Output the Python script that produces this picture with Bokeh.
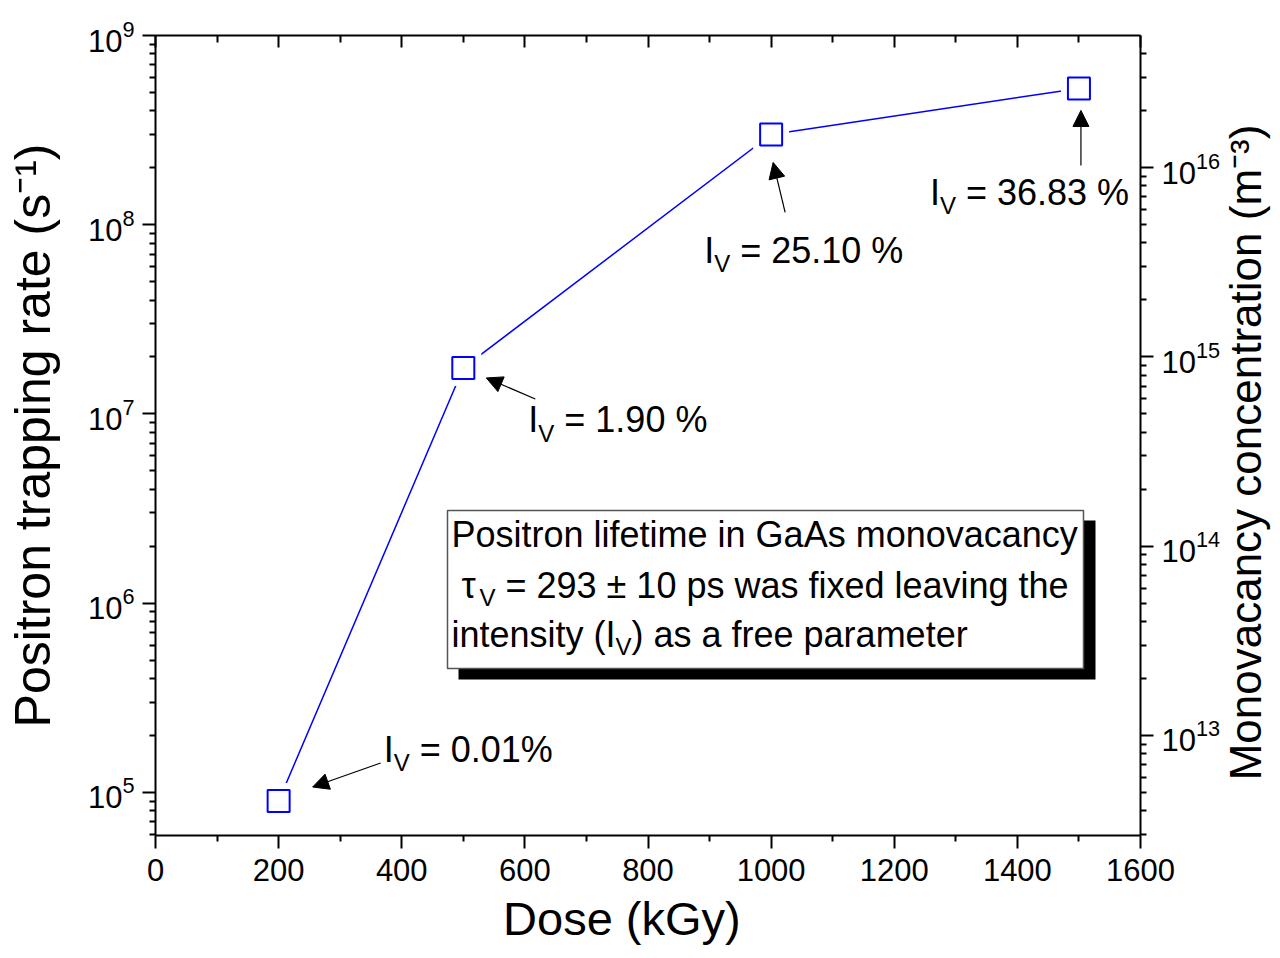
import math

from bokeh.core.properties import value
from bokeh.embed import file_html
from bokeh.layouts import row
from bokeh.models import (Arrow, ColumnDataSource, FixedTicker, LinearAxis, LogAxis,
                          LogTickFormatter, NormalHead, Range1d)
from bokeh.plotting import figure
from bokeh.resources import INLINE

# ---- data -------------------------------------------------------------
dose_kgy = [200, 500, 1000, 1500]
trapping_rate = [9.0e4, 1.75e7, 3.0e8, 5.25e8]          # s^-1
intensity_text = ["0.01%", "1.90 %", "25.10 %", "36.83 %"]

x_major = [0, 200, 400, 600, 800, 1000, 1200, 1400, 1600]
x_minor = [100, 300, 500, 700, 900, 1100, 1300, 1500]
left_decades = [5, 6, 7, 8, 9]
right_decades = [13, 14, 15, 16]

NB = "\u00a0"
box_lines = ["Positron lifetime in GaAs monovacancy",
             NB + "= 293 \u00b1 10 ps was fixed leaving the",
             "intensity (I",
             ") as a free parameter"]
right_title = "Monovacancy concentration (m\u207b\u00b3)"

# ---- geometry ---------------------------------------------------------
FONT = "Liberation Sans"
CANVAS_H = 958
FRAME_W, FRAME_H = 985, 800
X_LO, X_HI = 0, 1600
LOG_LO, LOG_HI = 4.772, 9.0
LOG_R_LO, LOG_R_HI = 12.471, 16.698
BASE_FIX = 0.36          # baseline correction of the svg text, in em
FL, FT = 155, 35         # frame offset inside the canvas
RIGHT_BORDER = 82        # room for the right tick labels
TITLE_W = 1280 - FL - FRAME_W - RIGHT_BORDER


def to_px(x, y):
    """data -> frame pixel (origin at frame top-left)"""
    sx = (x - X_LO) / (X_HI - X_LO) * FRAME_W
    sy = (LOG_HI - math.log10(y)) / (LOG_HI - LOG_LO) * FRAME_H
    return sx, sy


def to_data(sx, sy):
    x = X_LO + sx / FRAME_W * (X_HI - X_LO)
    y = 10 ** (LOG_HI - sy / FRAME_H * (LOG_HI - LOG_LO))
    return x, y


def shifted(x, y, dx, dy):
    sx, sy = to_px(x, y)
    return to_data(sx + dx, sy + dy)


def frame_pt(cx, cy):
    return to_data(cx - FL, cy - FT)


p = figure(frame_width=FRAME_W, frame_height=FRAME_H,
           x_range=Range1d(X_LO, X_HI),
           y_range=Range1d(10 ** LOG_LO, 10 ** LOG_HI),
           y_axis_type="log", x_axis_type=None,
           output_backend="svg", toolbar_location=None,
           min_border_left=FL, min_border_right=RIGHT_BORDER,
           min_border_top=FT, min_border_bottom=CANVAS_H - FT - FRAME_H)
p.background_fill_color = "white"
p.border_fill_color = "white"
p.outline_line_color = None
p.grid.visible = False
p.extra_y_ranges = {"conc": Range1d(10 ** LOG_R_LO, 10 ** LOG_R_HI)}


def style_axis(ax, out_major=13, out_minor=6, in_major=0, in_minor=0):
    ax.axis_line_width = 2
    ax.axis_line_color = "black"
    ax.major_tick_line_width = 2
    ax.minor_tick_line_width = 2
    ax.major_tick_line_color = "black"
    ax.minor_tick_line_color = "black"
    ax.major_tick_out = out_major
    ax.minor_tick_out = out_minor
    ax.major_tick_in = in_major
    ax.minor_tick_in = in_minor
    ax.major_label_text_font = FONT
    ax.major_label_text_font_size = "31px"
    ax.major_label_text_color = "black"
    ax.axis_label_text_font = FONT
    ax.axis_label_text_font_style = "normal"
    ax.axis_label_text_color = "black"


def log_minor(decades):
    return [k * 10.0 ** e for e in range(decades[0] - 1, decades[-1] + 1) for k in range(2, 10)]


# left axis
yl = p.yaxis[0]
yl.ticker = FixedTicker(ticks=[10.0 ** e for e in left_decades], minor_ticks=log_minor(left_decades))
yl.formatter = LogTickFormatter()
style_axis(yl)
yl.axis_label = "Positron trapping rate (s\u207b\u00b9)"
yl.axis_label_text_font_size = "50px"
yl.major_label_standoff = 8
yl.axis_label_standoff = 24

# bottom axis
xb = LinearAxis(ticker=FixedTicker(ticks=x_major, minor_ticks=x_minor))
style_axis(xb)
xb.axis_label = "Dose (kGy)" + NB * 4
xb.axis_label_text_font_size = "47px"
xb.major_label_standoff = 10
xb.axis_label_standoff = 8
p.add_layout(xb, "below")

# top axis: ticks only
xt = LinearAxis(ticker=FixedTicker(ticks=x_major, minor_ticks=x_minor))
style_axis(xt, out_major=0, out_minor=0, in_major=12, in_minor=7)
xt.major_label_text_font_size = "0px"
xt.major_label_standoff = 0
p.add_layout(xt, "above")

# right axis: monovacancy concentration
yr = LogAxis(y_range_name="conc",
             ticker=FixedTicker(ticks=[10.0 ** e for e in right_decades],
                                minor_ticks=log_minor(right_decades)),
             formatter=LogTickFormatter())
style_axis(yr)
yr.major_label_standoff = 8
p.add_layout(yr, "right")

# ---- series -------------------------------------------------------------
src = ColumnDataSource(dict(x=dose_kgy, y=trapping_rate))
p.line("x", "y", source=src, line_color="#0000ff", line_width=1.5)
# white pads give the line a small gap around each marker
p.scatter("x", "y", source=src, marker="square", size=36,
          fill_color="white", line_color=None)
p.scatter("x", "y", source=src, marker="square", size=22,
          fill_color="white", line_color="#0000ff", line_width=2)

# ---- I_V labels with arrows (pixel offsets relative to each point) -----
label_offsets = [(105, -39), (65, 65), (-67, 129), (-149, 117)]
arrow_offsets = [((102, -38), (34, -14)),
                 ((72, 31), (23, 10)),
                 ((14, 78), (2, 28)),
                 ((2, 77), (2, 22))]

pieces = dict(x=[], y=[], text=[], size=[])


def add_piece(x, y, dx, dy, text, size):
    px, py = shifted(x, y, dx, dy - BASE_FIX * size)
    pieces["x"].append(px)
    pieces["y"].append(py)
    pieces["text"].append(text)
    pieces["size"].append(f"{size}px")


for xv, yv, txt, (ldx, ldy), (tail, head) in zip(dose_kgy, trapping_rate, intensity_text,
                                                  label_offsets, arrow_offsets):
    add_piece(xv, yv, ldx, ldy, "I", 36)
    add_piece(xv, yv, ldx + 10, ldy + 9, "V", 24)
    add_piece(xv, yv, ldx + 26, ldy, NB + "= " + txt, 36)
    x0, y0 = shifted(xv, yv, *tail)
    x1, y1 = shifted(xv, yv, *head)
    p.add_layout(Arrow(x_start=x0, y_start=y0, x_end=x1, y_end=y1,
                       line_color="black", line_width=1.2,
                       end=NormalHead(size=16, fill_color="black", line_color="black",
                                      line_width=1)))

# ---- note box -------------------------------------------------------------
sh_l, sh_t = frame_pt(458, 520)
sh_r, sh_b = frame_pt(1095, 679)
bx_l, bx_t = frame_pt(447, 510)
bx_r, bx_b = frame_pt(1083, 668)
p.quad(left=[sh_l], right=[sh_r], top=[sh_t], bottom=[sh_b],
       fill_color="black", line_color=None)
p.quad(left=[bx_l], right=[bx_r], top=[bx_t], bottom=[bx_b],
       fill_color="white", line_color="#555555", line_width=1.5)

box_pieces = dict(x=[], y=[], text=[], size=[])


def box_piece(cx, cy, text, size):
    px, py = frame_pt(cx, cy - BASE_FIX * size)
    box_pieces["x"].append(px)
    box_pieces["y"].append(py)
    box_pieces["text"].append(text)
    box_pieces["size"].append(f"{size}px")


box_piece(451, 547, box_lines[0], 36)
box_piece(461, 598, "\u03c4", 36)
box_piece(479, 606, "V", 24)
box_piece(495, 598, box_lines[1], 36)
box_piece(451, 647, box_lines[2], 36)
box_piece(615, 655, "V", 24)
box_piece(631, 647, box_lines[3], 36)

for srcd in (pieces, box_pieces):
    p.text("x", "y", text="text", source=ColumnDataSource(srcd),
           text_font=value(FONT), text_font_size="size", text_color="black",
           text_align="left", text_baseline="alphabetic")

# ---- right-hand title, read bottom to top, in a narrow strip ------------
t = figure(frame_width=TITLE_W, frame_height=CANVAS_H,
           x_range=Range1d(0, TITLE_W), y_range=Range1d(0, CANVAS_H),
           x_axis_type=None, y_axis_type=None,
           output_backend="svg", toolbar_location=None,
           min_border=0)
t.outline_line_color = None
t.grid.visible = False
t.background_fill_color = "white"
t.border_fill_color = "white"
t.text(x=[TITLE_W / 2 - 7], y=[CANVAS_H - 451 + 34], text=[right_title], angle=math.pi / 2,
       text_font=value(FONT), text_font_size="44px", text_color="black",
       text_align="center", text_baseline="middle")

layout = row(p, t, spacing=0)
open("out.html", "w").write(file_html(layout, INLINE))
